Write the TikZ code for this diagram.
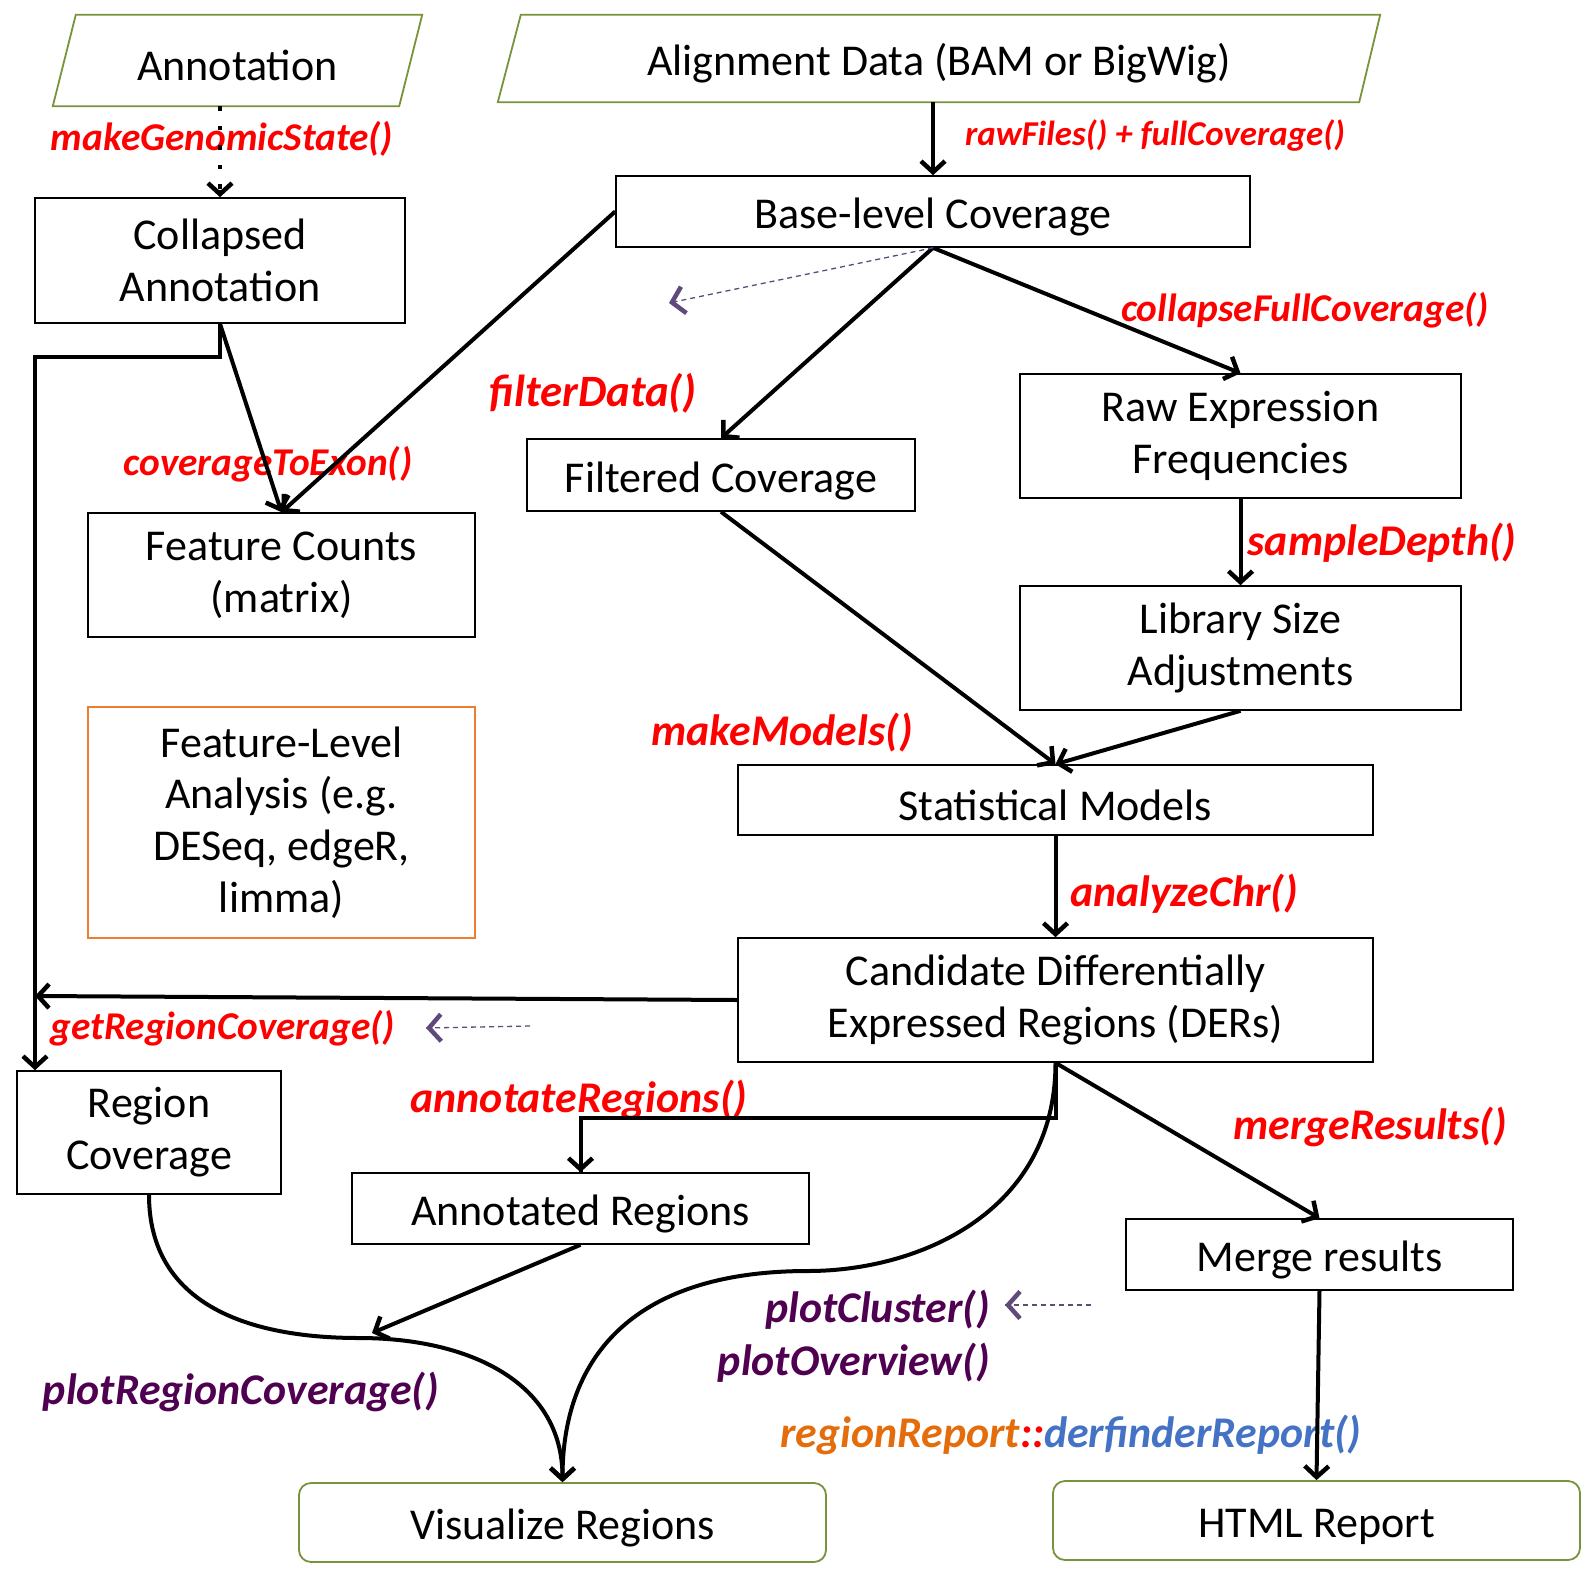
\documentclass[tikz,border=0pt]{standalone}
\usepackage{fontspec}
\setmainfont{Carlito}
\usetikzlibrary{arrows.meta,calc}
\definecolor{lblred}{RGB}{255,0,0}
\definecolor{lblpurple}{RGB}{80,0,80}
\definecolor{dashpurple}{RGB}{96,74,123}
\definecolor{olivegreen}{RGB}{119,147,60}
\definecolor{boxorange}{RGB}{237,125,49}
\definecolor{rrorange}{RGB}{228,108,10}
\definecolor{dfblue}{RGB}{68,114,196}
\newcommand\boxstrut{\rule[-1bp]{0pt}{43bp}}
\begin{document}
\begin{tikzpicture}[x=1bp,y=-1bp,
  txt/.style={inner sep=0,align=center,font=\fontsize{44.2}{52}\selectfont,
    execute at begin node=\boxstrut,execute at end node=\boxstrut},
  bx/.style n args={2}{txt,draw=black,line width=1.6bp,minimum width=#1bp,minimum height=#2bp},
  rbx/.style n args={2}{txt,draw=olivegreen,line width=1.8bp,rounded corners=12bp,minimum width=#1bp,minimum height=#2bp},
  flow/.style={line width=4bp,-{Straight Barb[length=11bp,width=24bp,line width=4.5bp]}},
  dotflow/.style={line width=4.5bp,dash pattern=on 4.5bp off 15bp},
  hint/.style={dashpurple,line width=1.3bp,dash pattern=on 5bp off 4bp},
  hinthead/.style={dashpurple,line width=1.3bp,solid,-{Straight Barb[length=12bp,width=27bp,line width=4.5bp]}},
  lbl/.style={inner sep=0,text=lblred,font=\fontsize{44}{48}\selectfont\bfseries\itshape},
  slbl/.style={lbl,font=\fontsize{39.5}{44}\selectfont\bfseries\itshape},
  plbl/.style={lbl,text=lblpurple}]
\useasboundingbox (0,0) rectangle (1584,1584);
\fill[white] (0,0) rectangle (1584,1584);

% input parallelograms
\node[txt,minimum width=369bp,minimum height=91bp] (annot) at (237.5,60.5) {Annotation};
\draw[olivegreen,line width=1.8bp] ([xshift=23bp]annot.north west) -- (annot.north east) -- ([xshift=-23bp]annot.south east) -- (annot.south west) -- cycle;
\node[txt,minimum width=882bp,minimum height=87bp] (align) at (939,58.5) {Alignment Data (BAM or BigWig)};
\draw[olivegreen,line width=1.8bp] ([xshift=23bp]align.north west) -- (align.north east) -- ([xshift=-21bp]align.south east) -- (align.south west) -- cycle;

% boxes
\node[bx={370}{125}] (coll) at (220,260.5) {Collapsed\\Annotation};
\node[bx={634}{71}] (base) at (933,211.5) {Base-level Coverage};
\node[bx={441}{124}] (raw) at (1240.5,436) {Raw Expression\\Frequencies};
\node[bx={388}{72}] (filt) at (721,475) {Filtered Coverage};
\node[bx={387}{124}] (feat) at (281.5,575) {Feature Counts\\(matrix)};
\node[bx={387}{231},draw=boxorange] (fla) at (281.5,822.5) {Feature-Level\\Analysis (e.g.\\DESeq, edgeR,\\limma)};
\node[bx={441}{124}] (lib) at (1240.5,648) {Library Size\\Adjustments};
\node[bx={635}{70}] (stat) at (1055.5,800) {Statistical Models};
\node[bx={635}{124}] (der) at (1055.5,1000) {Candidate Differentially\\Expressed Regions (DERs)};
\node[bx={264}{123}] (regc) at (149,1132.5) {Region\\Coverage};
\node[bx={457}{71}] (annr) at (580.5,1208.5) {Annotated Regions};
\node[bx={387}{71}] (merge) at (1319.5,1254.5) {Merge results};
\node[rbx={527}{79}] (viz) at (562.5,1522.5) {Visualize Regions};
\node[rbx={527}{79}] (html) at (1316.5,1520.5) {HTML Report};

% labels
\node[slbl] (lmgs) at (222,139) {makeGenomicState()};
\node[lbl,font=\fontsize{35}{38}\selectfont\bfseries\itshape] (lraw) at (1155,136) {rawFiles() + fullCoverage()};
\node[slbl] (lcfc) at (1305,310) {collapseFullCoverage()};
\node[lbl,font=\fontsize{45}{48}\selectfont\bfseries\itshape] (lfd) at (593,393) {filterData()};
\node[slbl] (lcte) at (268,464) {coverageToExon()};
\node[lbl] (lsd) at (1382,543) {sampleDepth()};
\node[lbl] (lmm) at (782,733) {makeModels()};
\node[lbl] (lac) at (1184,894) {analyzeChr()};
\node[slbl] (lgrc) at (223,1028) {getRegionCoverage()};
\node[lbl] (lar) at (579,1100) {annotateRegions()};
\node[lbl] (lmr) at (1370,1127) {mergeResults()};
\node[plbl,anchor=east] (lpc) at (990,1310) {plotCluster()};
\node[plbl,anchor=east] (lpo) at (990,1363) {plotOverview()};
\node[plbl] (lprc) at (241,1392) {plotRegionCoverage()};
\node[lbl] (lrr) at (1071,1435) {\textcolor{rrorange}{regionReport}::\textcolor{dfblue}{derfinderReport()}};

% free ends
\coordinate (jn) at (35,996);
\coordinate (hint1) at (669,303);
\coordinate (h2a) at (530,1026);
\coordinate (h2b) at (426,1028);
\coordinate (h3a) at (1091,1305);
\coordinate (h3b) at (1005,1305);
\coordinate (mid1) at (808,1271);
\coordinate (mid2) at (359,1338);
\coordinate (arin) at (372,1333);

% connectors
\draw[dotflow] (coll.north |- annot.south) -- ([yshift=8bp]coll.north);
\draw[line width=4.5bp,-{Straight Barb[length=11bp,width=24bp,line width=4.5bp]}] ([yshift=7bp]coll.north) -- (coll.north);
\draw[flow] (base.north |- align.south) -- (base.north);
\draw[flow] (base.west) -- (feat.north);
\draw[flow] (coll.south) -- (feat.north);
\draw[flow] (coll.south) -- ++(0,33) -| (regc.north -| jn);
\draw[flow] (base.south) -- (filt.north);
\draw[flow] (base.south) -- (raw.north);
\draw[hint] (base.south) -- (hint1);
\draw[hinthead] ($(hint1)!4bp!(base.south)$) -- (hint1);
\draw[flow] (filt.south) -- (stat.north);
\draw[flow] (raw.south) -- (lib.north);
\draw[flow] (lib.south) -- (stat.north);
\draw[flow] (stat.south) -- (der.north);
\draw[flow] (der.west) -- (jn);
\draw[hint] (h2a) -- (h2b);
\draw[hinthead] ($(h2b)!4bp!(h2a)$) -- (h2b);
\draw[flow,-] (der.south) -- ++(0,55) -| ([yshift=-1bp]annr.north);
\draw[flow] (annr.north) ++(0,-40) -- (annr.north);
\draw[flow] (der.south) -- (merge.north);
\draw[flow] (der.south) .. controls +(0,150) and +(110,0) .. (mid1) .. controls +(-180,0) and +(0,-120) .. (viz.north);
\draw[flow] (regc.south) .. controls +(0,110) and +(-110,0) .. (mid2) .. controls +(110,0) and +(0,-100) .. (viz.north);
\draw[flow] (annr.south) -- (arin);
\draw[hint] (h3a) -- (h3b);
\draw[hinthead] ($(h3b)!4bp!(h3a)$) -- (h3b);
\draw[flow] (merge.south) -- (html.north);
\end{tikzpicture}
\end{document}
